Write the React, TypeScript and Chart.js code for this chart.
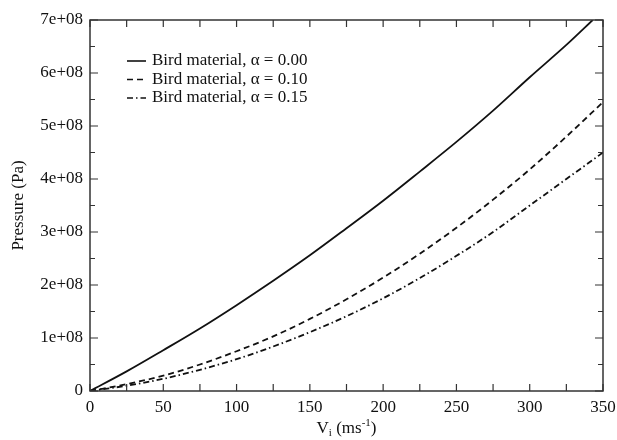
import React, { useEffect, useRef } from "react";
import { Chart, registerables } from "chart.js";

Chart.register(...registerables);

// Impact velocity samples (m/s)
const VELOCITY = [0, 25, 50, 75, 100, 125, 150, 175, 200, 225, 250, 275, 300, 325, 350];
const VELOCITY_SOLID = [0, 25, 50, 75, 100, 125, 150, 175, 200, 225, 250, 275, 300, 325, 343];

// Pressure in units of 1e8 Pa
const PRESSURE_A000 = [0, 0.37, 0.77, 1.18, 1.62, 2.08, 2.56, 3.07, 3.59, 4.14, 4.7, 5.29, 5.92, 6.53, 7.0];
const PRESSURE_A010 = [0, 0.13, 0.29, 0.5, 0.75, 1.03, 1.36, 1.73, 2.14, 2.59, 3.08, 3.61, 4.18, 4.8, 5.45];
const PRESSURE_A015 = [0, 0.1, 0.23, 0.4, 0.6, 0.84, 1.11, 1.41, 1.75, 2.13, 2.55, 3.0, 3.5, 4.0, 4.5];
const PA_UNIT = 1e8;

const SERIES_LABELS = [
  "Bird material, \u03b1 = 0.00",
  "Bird material, \u03b1 = 0.10",
  "Bird material, \u03b1 = 0.15",
];

const X_MIN = 0;
const X_MAX = 350;
const X_MAJOR = 50;
const X_MINOR = 25;
const Y_MIN = 0;
const Y_MAX = 7e8;
const Y_MAJOR = 1e8;
const Y_MINOR = 0.5e8;

const FONT = '"Liberation Serif", "DejaVu Serif", "Times New Roman", serif';
const INK = "#111";

const toPoints = (xs: number[], ys: number[]) =>
  xs.map((v, i) => ({ x: v, y: ys[i] * PA_UNIT }));

const frameAndLabels = {
  id: "frameAndLabels",
  afterDraw(chart: any) {
    const { ctx, chartArea, scales } = chart;
    const { left, right, top, bottom } = chartArea;
    const xs = scales.x;
    const ys = scales.y;
    ctx.save();

    // plot frame
    ctx.strokeStyle = "#333";
    ctx.lineWidth = 1.5;
    ctx.setLineDash([]);
    ctx.strokeRect(left, top, right - left, bottom - top);

    // inward ticks on all four sides
    ctx.lineWidth = 1.2;
    for (let v = X_MIN; v <= X_MAX + 1e-9; v += X_MINOR) {
      const px = xs.getPixelForValue(v);
      const len = 7;
      ctx.beginPath();
      ctx.moveTo(px, bottom);
      ctx.lineTo(px, bottom - len);
      ctx.moveTo(px, top);
      ctx.lineTo(px, top + len);
      ctx.stroke();
    }
    for (let v = Y_MIN; v <= Y_MAX + 1; v += Y_MINOR) {
      const py = ys.getPixelForValue(v);
      const major = Math.abs(v / Y_MAJOR - Math.round(v / Y_MAJOR)) < 1e-6;
      const len = major ? 8 : 5;
      ctx.beginPath();
      ctx.moveTo(left, py);
      ctx.lineTo(left + len, py);
      ctx.moveTo(right, py);
      ctx.lineTo(right - len, py);
      ctx.stroke();
    }

    // legend inside the plot
    ctx.fillStyle = INK;
    ctx.font = `17px ${FONT}`;
    ctx.textBaseline = "middle";
    ctx.textAlign = "left";
    chart.data.datasets.forEach((ds: any, i: number) => {
      const ly = top + 41 + i * 18.5;
      ctx.strokeStyle = INK;
      ctx.lineWidth = 1.6;
      ctx.setLineDash(ds.borderDash || []);
      ctx.beginPath();
      ctx.moveTo(left + 37, ly);
      ctx.lineTo(left + 56, ly);
      ctx.stroke();
      ctx.setLineDash([]);
      ctx.fillText(ds.label, left + 62, ly);
    });

    // y axis title
    ctx.save();
    ctx.translate(19, (top + bottom) / 2);
    ctx.rotate(-Math.PI / 2);
    ctx.textAlign = "center";
    ctx.font = `17px ${FONT}`;
    ctx.fillText("Pressure (Pa)", 0, 0);
    ctx.restore();

    // x axis title with subscript and superscript
    const parts = [
      { t: "V", size: 17, dy: 0 },
      { t: "i", size: 11, dy: 4 },
      { t: " (ms", size: 17, dy: 0 },
      { t: "-1", size: 11, dy: -6 },
      { t: ")", size: 17, dy: 0 },
    ];
    let total = 0;
    parts.forEach((p) => {
      ctx.font = `${p.size}px ${FONT}`;
      total += ctx.measureText(p.t).width;
    });
    let cx = (left + right) / 2 - total / 2;
    const ty = 429;
    ctx.textAlign = "left";
    parts.forEach((p) => {
      ctx.font = `${p.size}px ${FONT}`;
      ctx.fillText(p.t, cx, ty + p.dy);
      cx += ctx.measureText(p.t).width;
    });

    ctx.restore();
  },
};

export default function App() {
  const canvasRef = useRef<HTMLCanvasElement | null>(null);

  useEffect(() => {
    document.body.style.margin = "0";
    const canvas = canvasRef.current;
    if (!canvas) return;

    const common = {
      borderColor: INK,
      borderWidth: 1.8,
      pointRadius: 0,
      fill: false,
      cubicInterpolationMode: "monotone" as const,
    };

    const chart = new Chart(canvas, {
      type: "line",
      data: {
        datasets: [
          { ...common, label: SERIES_LABELS[0], data: toPoints(VELOCITY_SOLID, PRESSURE_A000), borderDash: [] },
          { ...common, label: SERIES_LABELS[1], data: toPoints(VELOCITY, PRESSURE_A010), borderDash: [6, 4] },
          { ...common, label: SERIES_LABELS[2], data: toPoints(VELOCITY, PRESSURE_A015), borderDash: [6, 3, 1.5, 3] },
        ],
      },
      options: {
        animation: false,
        responsive: true,
        maintainAspectRatio: false,
        layout: { padding: { top: 20, right: 14, left: 0, bottom: 0 } },
        plugins: { legend: { display: false }, tooltip: { enabled: false } },
        scales: {
          x: {
            type: "linear",
            min: X_MIN,
            max: X_MAX,
            offset: false,
            grid: { display: false, drawTicks: false },
            border: { display: false },
            ticks: {
              stepSize: X_MAJOR,
              color: INK,
              font: { family: FONT, size: 17 },
              padding: 6,
              maxRotation: 0,
            },
            afterFit: (s: any) => {
              s.height = 49;
              s.paddingLeft = 0;
              s.paddingRight = 0;
            },
          },
          y: {
            type: "linear",
            min: Y_MIN,
            max: Y_MAX,
            grid: { display: false, drawTicks: false },
            border: { display: false },
            ticks: {
              stepSize: Y_MAJOR,
              color: INK,
              font: { family: FONT, size: 17 },
              padding: 7,
              callback: (value: any) => {
                const n = Number(value);
                if (n === 0) return "0";
                return `${Math.round(n / Y_MAJOR)}e+08`;
              },
            },
            afterFit: (s: any) => {
              s.width = 90;
              s.paddingTop = 0;
              s.paddingBottom = 0;
            },
          },
        },
      },
      plugins: [frameAndLabels],
    });

    return () => chart.destroy();
  }, []);

  return (
    <div style={{ width: 617, height: 440, position: "relative", background: "#fff" }}>
      <canvas ref={canvasRef} />
    </div>
  );
}
